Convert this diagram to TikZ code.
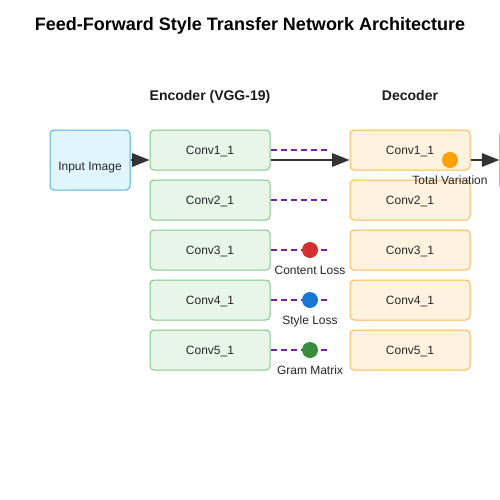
\documentclass[tikz,border=0pt]{standalone}
\usepackage{fontspec}
\setmainfont{Liberation Sans}
\usetikzlibrary{arrows.meta}
\definecolor{encfill}{HTML}{E8F5E9}
\definecolor{encdraw}{HTML}{81C784}
\definecolor{decfill}{HTML}{FFF3E0}
\definecolor{decdraw}{HTML}{FFB74D}
\definecolor{infill}{HTML}{E1F5FE}
\definecolor{indraw}{HTML}{4FB3E8}
\definecolor{purp}{HTML}{7B1FA2}
\definecolor{cred}{HTML}{D32F2F}
\definecolor{cblue}{HTML}{1976D2}
\definecolor{cgreen}{HTML}{388E3C}
\definecolor{corange}{HTML}{FFA000}
\definecolor{darkline}{HTML}{333333}
\begin{document}
\begin{tikzpicture}[x=0.75pt,y=-0.75pt,
  box/.style={rectangle,rounded corners=3pt,line width=0.75pt,minimum width=90pt,minimum height=30pt,inner sep=0pt,font=\fontsize{9}{11}\selectfont,text=black!85,text height=6.5pt,text depth=0pt},
  encbox/.style={box,fill=encfill,draw=encdraw},
  decbox/.style={box,fill=decfill,draw=decdraw},
  inbox/.style={box,fill=infill,draw=indraw,minimum width=60pt,minimum height=45pt},
  mainarrow/.style={draw=darkline,line width=1.5pt,-{Triangle[length=13pt,width=10pt]}},
  skip/.style={draw=purp,line width=1.5pt,dash pattern=on 4.5pt off 3pt},
  dot/.style={circle,inner sep=0pt,minimum size=12pt},
  lab/.style={font=\fontsize{9}{11}\selectfont,text=black!85,text height=6.5pt,text depth=0pt},
  head/.style={font=\bfseries\fontsize{10.5}{13}\selectfont,text=black!90,text height=7.6pt,text depth=0pt}
]
\useasboundingbox (0,0) rectangle (500,500);
\node[font=\bfseries\fontsize{13.5}{16}\selectfont,text height=9.8pt,text depth=0pt] (title) at (250,24) {Feed-Forward Style Transfer Network Architecture};
\node[head] (enchead) at (210,95) {Encoder (VGG-19)};
\node[head] (dechead) at (410,95) {Decoder};

\node[inbox] (in) at (90,160) {};
\node[lab] (inlab) at (90,166) {Input Image};
\node[inbox,anchor=west] (out) at (499.3,160) {};

\foreach \i/\y in {1/150,2/200,3/250,4/300,5/350}{
  \node[encbox] (e\i) at (210,\y) {Conv\i\_1};
  \node[decbox] (d\i) at (410,\y) {Conv\i\_1};
}

\draw[mainarrow] (in.east |- 0,160) -- (e1.west |- 0,160);
\draw[mainarrow] (e1.east |- 0,160) -- (d1.west |- 0,160);
\draw[mainarrow] (d1.east |- 0,160) -- (out.west |- 0,160);

\coordinate (s1) at (330,150);
\coordinate (s2) at (330,200);
\coordinate (s3) at (330,250);
\coordinate (s4) at (330,300);
\coordinate (s5) at (330,350);
\draw[skip] (e1.east |- s1) -- (s1);
\draw[skip] (e2.east) -- (s2);
\draw[skip] (e3.east) -- (s3);
\draw[skip] (e4.east) -- (s4);
\draw[skip] (e5.east) -- (s5);

\node[dot,fill=cred] (cl) at (310,250) {};
\node[dot,fill=cblue] (sl) at (310,300) {};
\node[dot,fill=cgreen] (gm) at (310,350) {};
\node[dot,fill=corange] (tv) at (450,160) {};
\node[lab] (cllab) at (310,270) {Content Loss};
\node[lab] (sllab) at (310,320) {Style Loss};
\node[lab] (gmlab) at (310,370) {Gram Matrix};
\node[lab] (tvlab) at (450,180) {Total Variation};
\end{tikzpicture}
\end{document}
